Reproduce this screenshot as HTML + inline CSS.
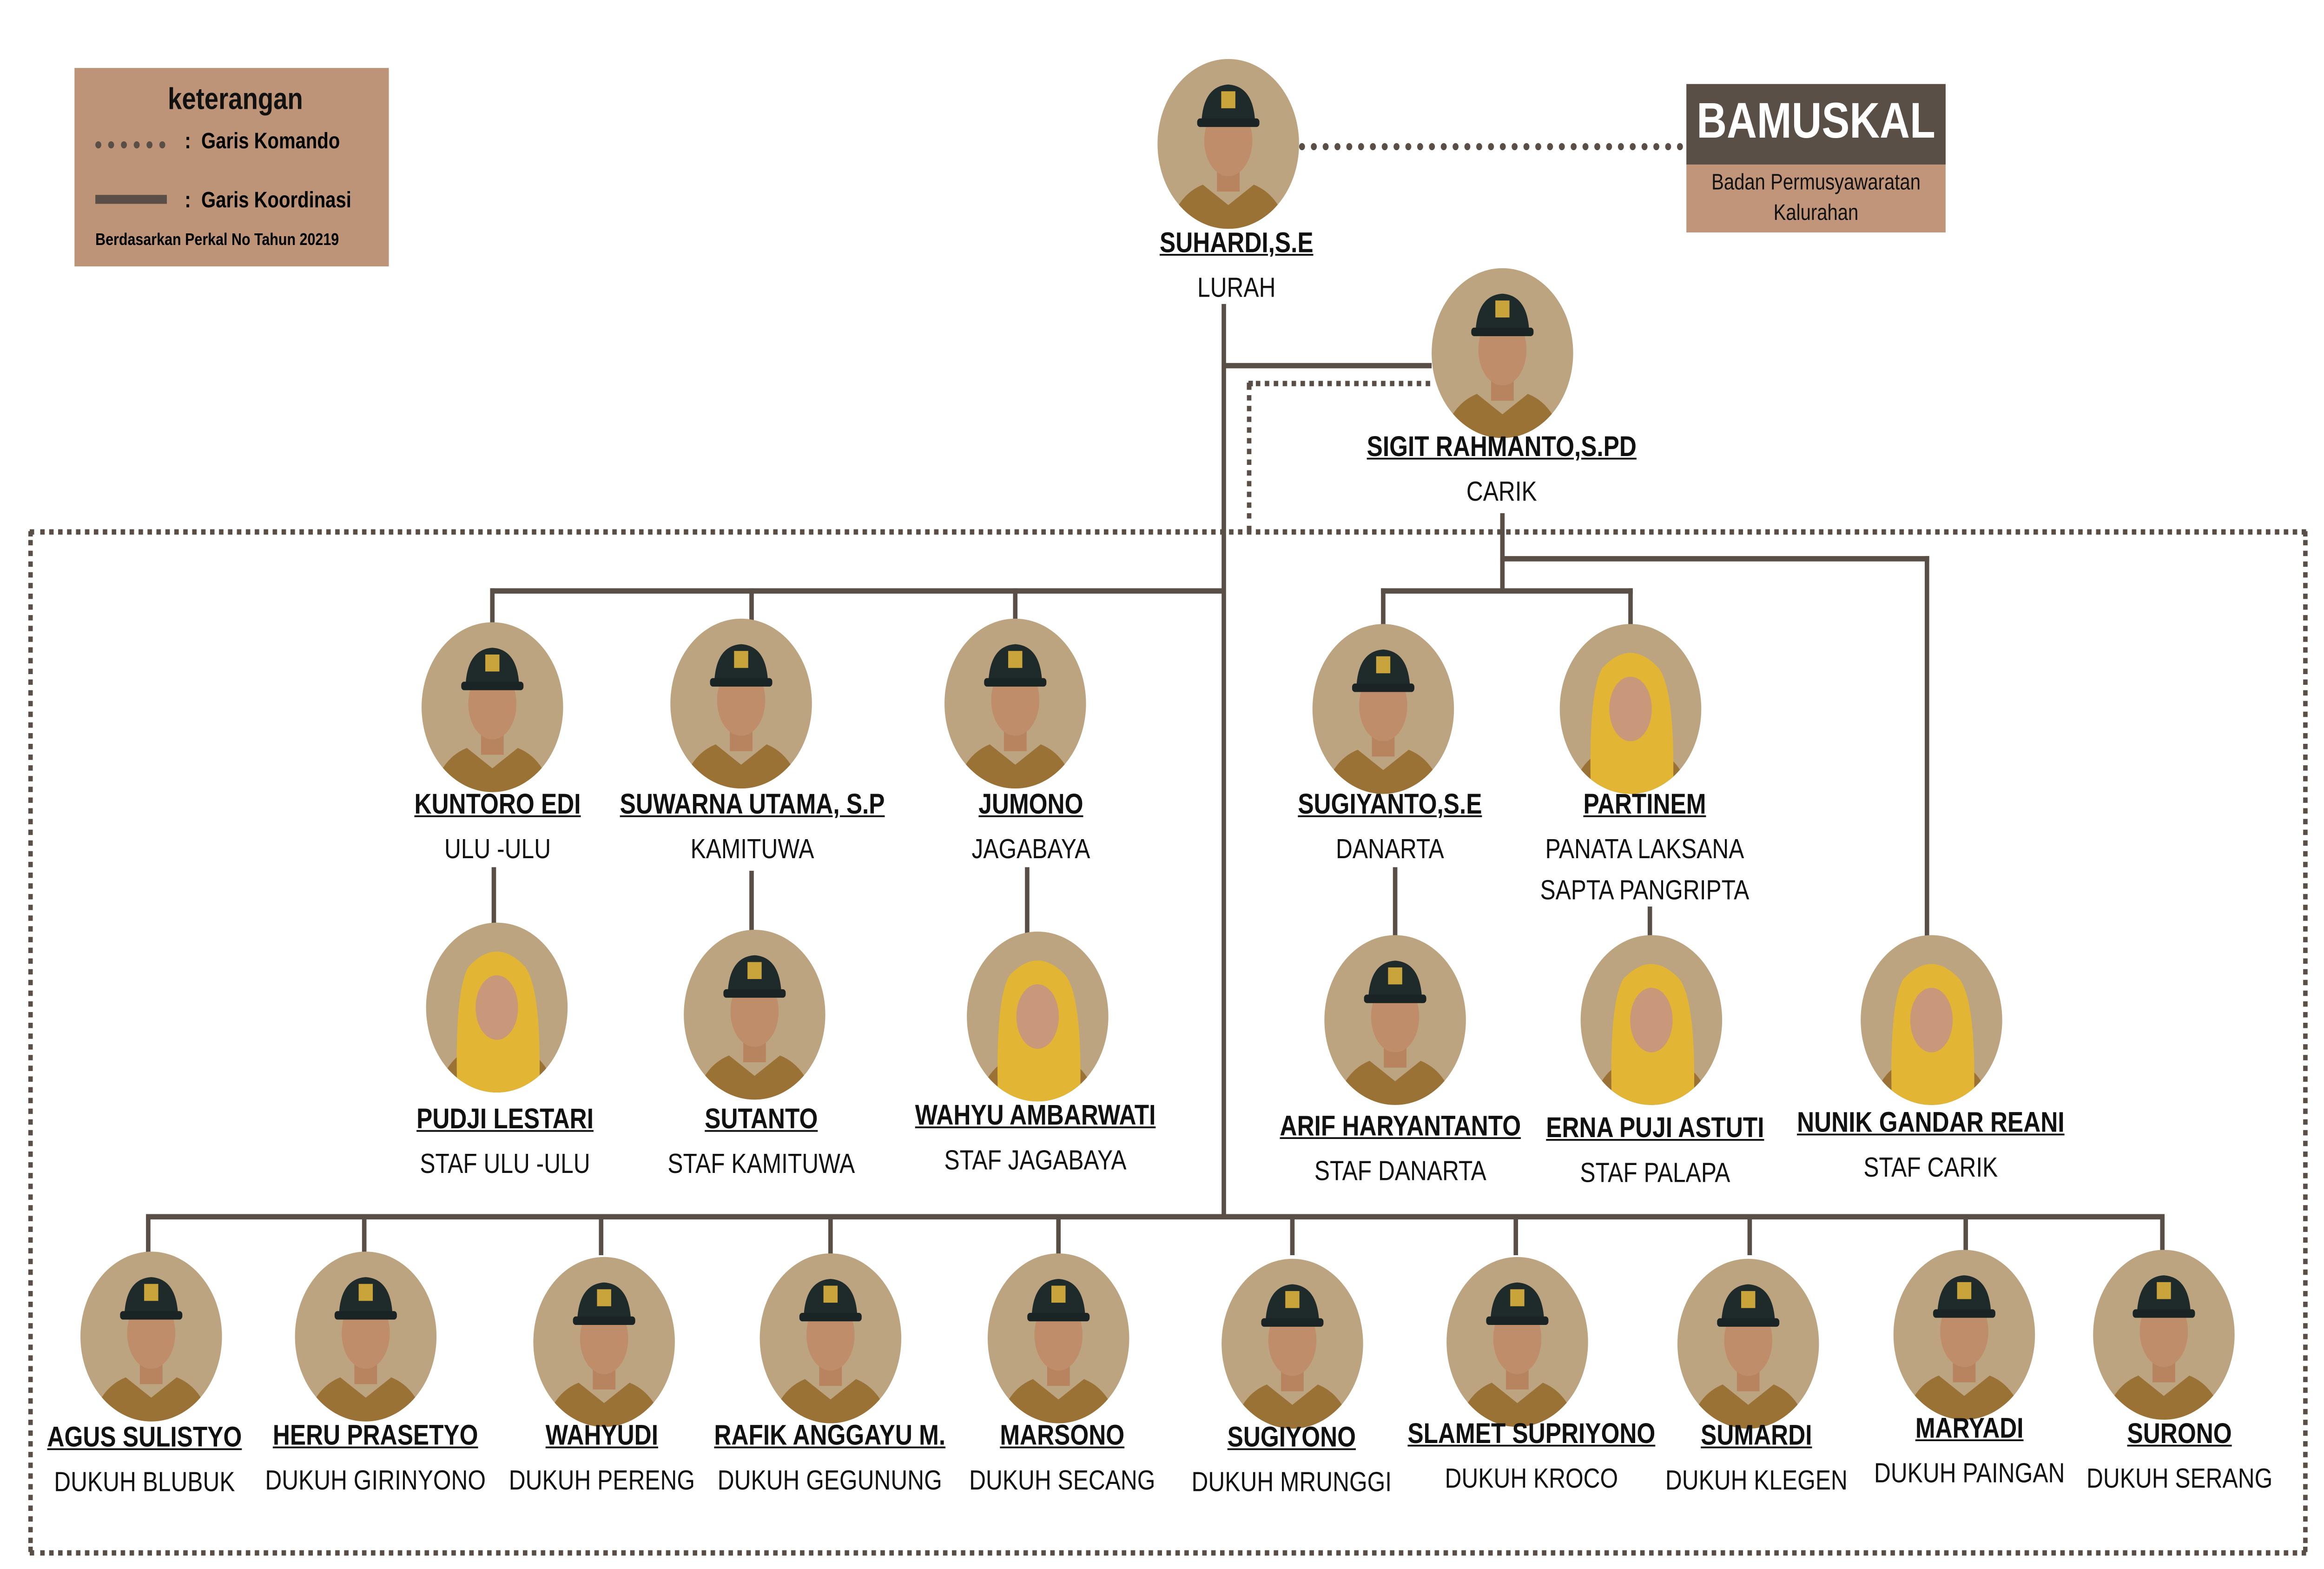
<!DOCTYPE html>
<html><head><meta charset="utf-8">
<style>
html,body{margin:0;padding:0;background:#fff;}
body{width:100vw;height:100vh;overflow:hidden;position:relative;}
#s{position:absolute;left:0;top:0;width:1560px;height:877.5px;transform:scale(3.84615);transform-origin:0 0;font-family:"Liberation Sans",sans-serif;}
.l{position:absolute;background:#5a4f47;}
.dh{position:absolute;height:0;border-top:3px dotted #5a4f47;}
.dv{position:absolute;width:0;border-left:3px dotted #5a4f47;}
.av{position:absolute;width:95px;height:95px;border-radius:50%;background:#bba47f;overflow:hidden;}
.av svg{width:100%;height:100%;display:block}
.t{position:absolute;white-space:nowrap;transform:translateX(-50%);text-align:center;color:#111;}
.n{font-weight:bold;text-decoration:underline;font-size:16px;}
.r{font-size:15.5px;line-height:23px;}
</style></head><body><div id="s">

<div style="position:absolute;left:50px;top:38px;width:211px;height:111px;background:#be9478;"></div>
<div class="t" style="left:158px;top:46px;font-weight:bold;font-size:17px;">keterangan</div>
<div class="dh" style="left:64px;top:79px;width:47px;border-top-width:4px;"></div>
<div style="position:absolute;left:124px;top:72px;font-weight:bold;font-size:12.5px;">:&nbsp; Garis Komando</div>
<div class="l" style="left:64px;top:109px;width:48px;height:5px;"></div>
<div style="position:absolute;left:124px;top:105px;font-weight:bold;font-size:12.5px;">:&nbsp; Garis Koordinasi</div>
<div style="position:absolute;left:64px;top:129px;font-weight:bold;font-size:9.5px;">Berdasarkan Perkal No Tahun 20219</div>

<div style="position:absolute;left:1132px;top:47px;width:174px;height:83px;background:#c0957a;"></div>
<div style="position:absolute;left:1132px;top:47px;width:174px;height:45px;background:#5a4f47;"></div>
<div class="t" style="left:1219px;top:52px;color:#fff;font-weight:bold;font-size:28px;">BAMUSKAL</div>
<div class="t" style="left:1219px;top:94px;font-size:12.5px;line-height:17px;">Badan Permusyawaratan<br>Kalurahan</div>
<div class="dh" style="left:872px;top:80px;width:258px;border-top-width:4px;"></div>

<div class="l" style="left:819.5px;top:170px;width:3px;height:511px;"></div>
<div class="l" style="left:821px;top:202.5px;width:140px;height:3px;"></div>
<div class="dh" style="left:838px;top:213px;width:122px;"></div>
<div class="dv" style="left:836.5px;top:214px;height:84px;"></div>
<div class="dh" style="left:20px;top:296px;width:1528px;"></div>
<div class="dh" style="left:20px;top:867px;width:1528px;"></div>
<div class="dv" style="left:18.5px;top:297px;height:571px;"></div>
<div class="dv" style="left:1545.5px;top:297px;height:571px;"></div>

<div class="l" style="left:329px;top:328.5px;width:493px;height:3px;"></div>
<div class="l" style="left:329px;top:329px;width:3px;height:20px;"></div>
<div class="l" style="left:503px;top:329px;width:3px;height:20px;"></div>
<div class="l" style="left:680px;top:329px;width:3px;height:20px;"></div>

<div class="l" style="left:1006.5px;top:287px;width:3px;height:44px;"></div>
<div class="l" style="left:927px;top:328.5px;width:169px;height:3px;"></div>
<div class="l" style="left:927px;top:329px;width:3px;height:22px;"></div>
<div class="l" style="left:1093px;top:329px;width:3px;height:22px;"></div>
<div class="l" style="left:1008px;top:310.5px;width:287px;height:3px;"></div>
<div class="l" style="left:1291.5px;top:311px;width:3px;height:218px;"></div>

<div class="l" style="left:330px;top:485px;width:3px;height:34px;"></div>
<div class="l" style="left:503px;top:487px;width:3px;height:34px;"></div>
<div class="l" style="left:688px;top:485px;width:3px;height:38px;"></div>
<div class="l" style="left:935px;top:485px;width:3px;height:40px;"></div>
<div class="l" style="left:1106px;top:507px;width:3px;height:18px;"></div>

<div class="l" style="left:98px;top:678.5px;width:1355px;height:3px;"></div>
</div>
<script>
var S=document.getElementById('s');
function fit(){var w=window.innerWidth||document.documentElement.clientWidth||6000;var h=window.innerHeight||document.documentElement.clientHeight||3375;S.style.transform='scale('+(w/1560)+','+(h/877.5)+')';}
fit();window.addEventListener('resize',fit);
function av(cx,cy,f){
 var d=document.createElement('div');d.className='av';
 d.style.left=(cx-47.5)+'px';d.style.top=(cy-47.5)+'px';
 var svg='<svg viewBox="0 0 100 100"><path d="M8 100 Q14 80 32 74 L50 86 L68 74 Q86 80 92 100Z" fill="#9a7236"/>';
 if(f){svg+='<path d="M22 100 Q20 40 30 26 Q50 8 70 26 Q82 40 80 100Z" fill="#e2b534"/><ellipse cx="50" cy="50" rx="15" ry="19" fill="#c9977a"/>';}
 else{svg+='<rect x="42" y="62" width="16" height="16" fill="#b7845f"/><ellipse cx="50" cy="48" rx="17" ry="21" fill="#c08d6a"/><path d="M31 38 Q32 16 50 15 Q68 16 69 38 Z" fill="#1f2a2a"/><rect x="28" y="35" width="44" height="5" rx="2" fill="#1a2424"/><rect x="45" y="19" width="10" height="10" fill="#c9a43a"/>';}
 svg+='</svg>';d.innerHTML=svg;S.appendChild(d);
}
function tx(x,y,cls,s){var d=document.createElement('div');d.className='t '+cls;d.style.left=x+'px';d.style.top=y+'px';d.innerHTML=s;S.appendChild(d);}
var N=[
[824,80,830,128,'SUHARDI,S.E',150,'LURAH',0],
[1008,197,1008,242,'SIGIT RAHMANTO,S.PD',264,'CARIK',0],
[330,395,334,442,'KUNTORO EDI',464,'ULU -ULU',0],
[497,393,505,442,'SUWARNA UTAMA, S.P',464,'KAMITUWA',0],
[681,393,692,442,'JUMONO',464,'JAGABAYA',0],
[928,396,933,442,'SUGIYANTO,S.E',464,'DANARTA',0],
[1094,396,1104,442,'PARTINEM',464,'PANATA LAKSANA<br>SAPTA PANGRIPTA',1],
[333,563,339,618,'PUDJI LESTARI',640,'STAF ULU -ULU',1],
[506,567,511,618,'SUTANTO',640,'STAF KAMITUWA',0],
[696,568,695,616,'WAHYU AMBARWATI',638,'STAF JAGABAYA',1],
[936,570,940,622,'ARIF HARYANTANTO',644,'STAF DANARTA',0],
[1108,570,1111,623,'ERNA PUJI ASTUTI',645,'STAF PALAPA',1],
[1296,570,1296,620,'NUNIK GANDAR REANI',642,'STAF CARIK',1],
[101,747,97,796,'AGUS SULISTYO',818,'DUKUH BLUBUK',0],
[245,747,252,795,'HERU PRASETYO',817,'DUKUH GIRINYONO',0],
[405,750,404,795,'WAHYUDI',817,'DUKUH PERENG',0],
[557,748,557,795,'RAFIK ANGGAYU M.',817,'DUKUH GEGUNUNG',0],
[710,748,713,795,'MARSONO',817,'DUKUH SECANG',0],
[867,751,867,796,'SUGIYONO',818,'DUKUH MRUNGGI',0],
[1018,750,1028,794,'SLAMET SUPRIYONO',816,'DUKUH KROCO',0],
[1173,751,1179,795,'SUMARDI',817,'DUKUH KLEGEN',0],
[1318,746,1322,791,'MARYADI',813,'DUKUH PAINGAN',0],
[1452,746,1463,794,'SURONO',816,'DUKUH SERANG',0]];
[99,244,403,557,710,867,1017,1174,1319,1451].forEach(function(x){var d=document.createElement('div');d.className='l';d.style.left=(x-1.5)+'px';d.style.top='680px';d.style.width='3px';d.style.height='22px';S.appendChild(d);});
N.forEach(function(n){av(n[0],n[1],n[7]);tx(n[2],n[3],'n',n[4]);tx(n[2],n[5],'r',n[6]);});
</script>
</body></html>
